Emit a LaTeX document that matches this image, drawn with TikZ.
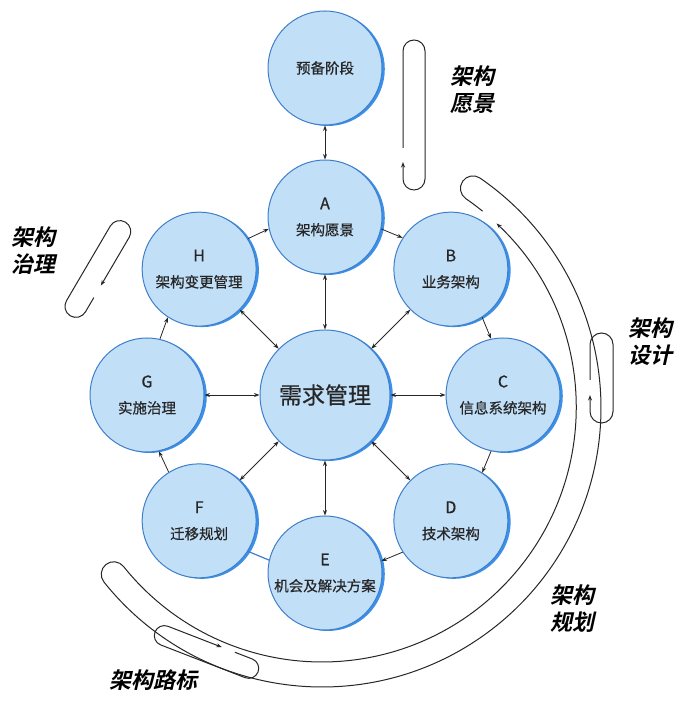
\documentclass[tikz,border=0pt]{standalone}
\usepackage{fontspec}
\setmainfont{Noto Sans CJK SC}
\newfontfamily\bubfont{Noto Sans CJK SC}[FakeBold=0.6]
\newfontfamily\labfont{Noto Sans CJK SC Bold}[FakeSlant=0.22]
\usetikzlibrary{arrows.meta,shadows,calc}
\definecolor{cfill}{HTML}{C2DFF8}
\definecolor{cline}{HTML}{3F7FC9}
\definecolor{cshadow}{HTML}{3A90EA}
\definecolor{ctext}{HTML}{262626}
\newcommand{\ltr}[1]{{\fontsize{16}{26}\selectfont #1}}
\begin{document}
\begin{tikzpicture}[x=1pt,y=1pt,
  bub/.style={circle, inner sep=0pt, minimum size=114pt, fill=cfill, draw=cline, line width=1pt,
    align=center, text=ctext, font=\bubfont\fontsize{14.5}{26}\selectfont,
    drop shadow={shadow xshift=2.8pt, shadow yshift=-1pt, fill=cshadow, opacity=1}},
  tip/.tip={Stealth[length=5.5pt,width=4pt]},
  link/.style={draw=black!85, line width=0.8pt, -tip},
  dlink/.style={draw=black!85, line width=0.8pt, tip-tip},
  plain/.style={draw=cline, line width=1.2pt},
  trk/.style={draw=black!85, line width=1pt},
  lab/.style={font=\labfont\fontsize{22}{27}\selectfont, align=center, text=black}
]
\useasboundingbox (0,0) rectangle (692,714);

% nodes
\coordinate (O) at (325,319);
\node[bub, minimum size=130pt, font=\bubfont\fontsize{23}{26}\selectfont] (M) at (O) {需求管理};
\node[bub] (A) at ($(O)+(90:178)$) {\ltr{A}\\架构愿景};
\node[bub] (B) at ($(O)+(45:178)$) {\ltr{B}\\业务架构};
\node[bub] (C) at ($(O)+(0:178)$) {\ltr{C}\\信息系统架构};
\node[bub] (D) at ($(O)+(-45:178)$) {\ltr{D}\\技术架构};
\node[bub] (E) at ($(O)+(-90:178)$) {\ltr{E}\\机会及解决方案};
\node[bub] (F) at ($(O)+(-135:178)$) {\ltr{F}\\迁移规划};
\node[bub] (G) at ($(O)+(180:178)$) {\ltr{G}\\实施治理};
\node[bub] (H) at ($(O)+(135:178)$) {\ltr{H}\\架构变更管理};
\node[bub] (P) at (325,646) {预备阶段};

% connectors
\draw[dlink] (P) -- (A);
\foreach \n in {A,B,C,D,E,F,G,H} \draw[dlink] (M) -- (\n);
\draw[link] (H.32.5) -- (A.192.5);
\draw[link] (A.-12.5) -- (B.147.5);
\draw[link] (B.-57.5) -- (C.102.5);
\draw[link] (C.-102.5) -- (D.57.5);
\draw[link] (D.-147.5) -- (E.12.5);
\draw[plain] (E.167.5) -- (F.-32.5);
\draw[link] (F.122.5) -- (G.282.5);
\draw[link] (G.77.5) -- (H.237.5);

% big track
\coordinate (T) at (322,306);
\draw[trk, tip-] ($(T)+(46.6:254)$) arc[start angle=46.6, end angle=-141.4, radius=254]
  arc[start angle=38.6, end angle=218.6, radius=12.5]
  arc[start angle=-141.4, end angle=55.5, radius=279]
  arc[start angle=55.5, end angle=235.5, radius=12.5]
  arc[start angle=55.5, end angle=50.8, radius=254];

% pill: vision
\draw[trk, tip-] (403,552) -- (403,535) arc[start angle=180, end angle=360, radius=11]
  -- (425,663) arc[start angle=0, end angle=180, radius=11] -- (403,566);
% pill: design
\draw[trk, tip-] (590,319) -- (590,302.5) arc[start angle=180, end angle=360, radius=11.5]
  -- (613,369.5) arc[start angle=0, end angle=180, radius=11.5] -- (590,334);
% pill: governance
\begin{scope}[shift={(119.8,482.4)}, rotate=239.6]
\draw[trk, -tip] (70,11) -- (86.7,11) arc[start angle=90, end angle=-90, radius=11]
  -- (0,-11) arc[start angle=270, end angle=90, radius=11] -- (56.1,11);
\end{scope}
% pill: roadmap
\begin{scope}[shift={(164.3,78.4)}, rotate=-21.2]
\draw[trk, -tip] (71.8,10) -- (90.55,10) arc[start angle=90, end angle=-90, radius=10]
  -- (0,-10) arc[start angle=270, end angle=90, radius=10] -- (57.9,10);
\end{scope}

% labels
\node[lab] (L1) at (472,624) {架构\\愿景};
\node[lab] (L2) at (33,463.5) {架构\\治理};
\node[lab] (L3) at (650,372.5) {架构\\设计};
\node[lab] (L4) at (572,105.5) {架构\\规划};
\node[lab] (L5) at (153,34) {架构路标};
\end{tikzpicture}
\end{document}
